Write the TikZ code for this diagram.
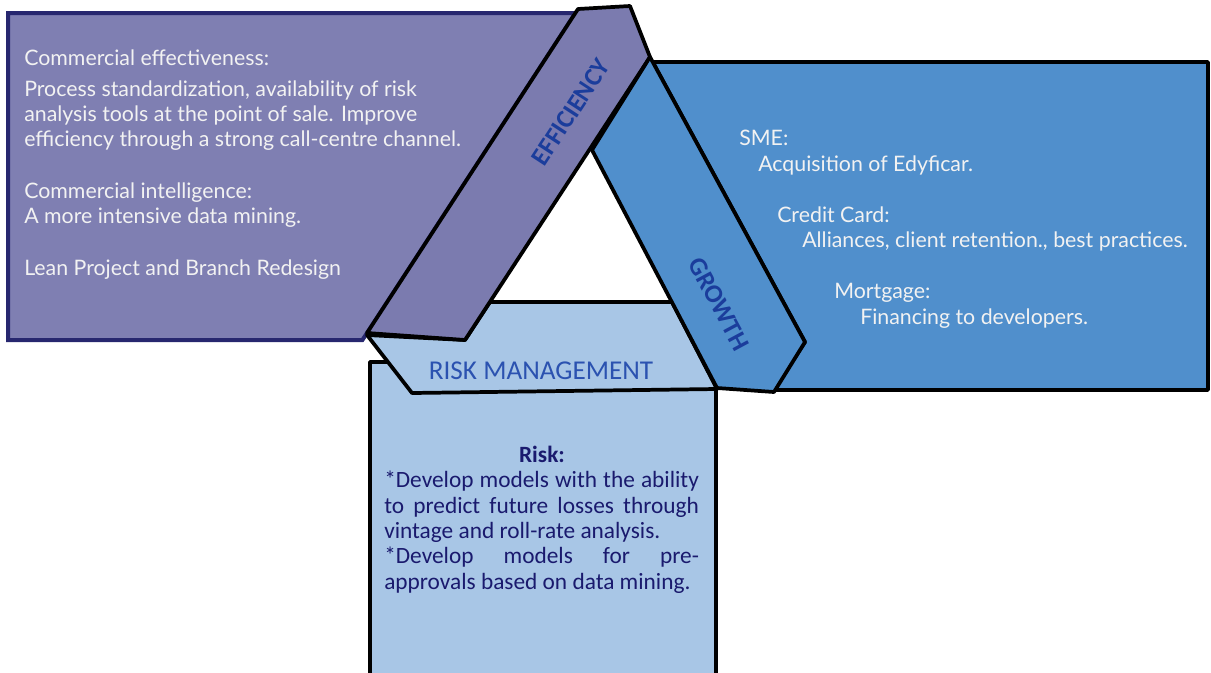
\documentclass[tikz,border=0pt]{standalone}
\usepackage{fontspec}
\setmainfont{Lato}
\newfontfamily\calib{Carlito}
\definecolor{purp}{HTML}{7F7FB2}
\definecolor{purpband}{HTML}{7B7BAF}
\definecolor{navyb}{HTML}{27276F}
\definecolor{midblue}{HTML}{508FCC}
\definecolor{lightblue}{HTML}{A8C6E6}
\definecolor{labblue}{HTML}{1B3D9C}
\definecolor{rmblue}{HTML}{2B52B0}
\definecolor{risknavy}{HTML}{1A1A6E}
\definecolor{txtwhite}{HTML}{F2F2F2}
\begin{document}
\begin{tikzpicture}[x=0.75pt,y=-0.75pt,
  outl/.style={draw=black,line width=2.8pt,line join=round},
  wtxt/.style={anchor=base west,inner sep=0pt,text=txtwhite,font=\fontsize{16}{19}\selectfont},
  bandlab/.style={inner sep=0pt,text=labblue,font=\calib\bfseries\fontsize{19.5}{21}\selectfont},
  rtxt/.style={anchor=base west,inner sep=0pt,text=risknavy,font=\calib\fontsize{17.5}{20}\selectfont}]
\useasboundingbox (0,0) rectangle (1211,672);
\clip (0,0) rectangle (1211,672);
% left purple box
\draw[draw=navyb,line width=3pt,fill=purp,line join=miter] (8,13) -- (575.4,13) -- (362.4,340) -- (8,340) -- cycle;
% right blue box
\draw[outl,fill=midblue] (652.7,62) -- (1208,62) -- (1208,390) -- (774,390) -- (805,342) -- cycle;
% risk box
\draw[outl,fill=lightblue] (370,362) rectangle (716,700);
% risk management band
\draw[outl,fill=lightblue] (367,335) -- (465,340) -- (490,302) -- (672,302) -- (717,389) -- (412,393) -- cycle;
% efficiency band
\draw[outl,fill=purpband] (367,333) -- (578,9) -- (630,6) -- (650,57) -- (465,340) -- cycle;
% growth band
\draw[outl,fill=midblue] (650,57) -- (805,342) -- (774,392) -- (717,388) -- (592,150) -- cycle;
% band labels
\node[bandlab,rotate=56.8] (eff) at (571,112) {EFFICIENCY};
\node[bandlab,rotate=-61.7] (gro) at (719,304) {GROWTH};
\node[inner sep=0pt,text=rmblue,font=\calib\fontsize{20.4}{22}\selectfont] (rm) at (541,371) {RISK MANAGEMENT};
% left texts
\node[wtxt] (l1) at (24,65) {Commercial effectiveness:};
\node[wtxt] (l2) at (24,96) {Process standardization, availability of risk};
\node[wtxt] (l3) at (24,121) {analysis tools at the point of sale. Improve};
\node[wtxt] (l4) at (24,146) {efficiency through a strong call-centre channel.};
\node[wtxt] (l5) at (24,198) {Commercial intelligence:};
\node[wtxt] (l6) at (24,223) {A more intensive data mining.};
\node[wtxt] (l7) at (24,275) {Lean Project and Branch Redesign};
% right texts
\node[wtxt] (s1) at (739,145) {SME:};
\node[wtxt] (s2) at (758,171) {Acquisition of Edyficar.};
\node[wtxt] (s3) at (777,222) {Credit Card:};
\node[wtxt] (s4) at (802,247) {Alliances, client retention., best practices.};
\node[wtxt] (s5) at (834,298) {Mortgage:};
\node[wtxt] (s6) at (860,324) {Financing to developers.};
% risk texts
\node[inner sep=0pt,anchor=base,text=risknavy,font=\calib\bfseries\fontsize{17.5}{20}\selectfont] (rk) at (542,462) {Risk:};
\node[rtxt] (r1) at (384,487) {\hbox to 236pt{*Develop models with the ability}};
\node[rtxt] (r2) at (384,513) {\hbox to 236pt{to predict future losses through}};
\node[rtxt] (r3) at (384,538) {vintage and roll-rate analysis.};
\node[rtxt] (r4) at (384,563) {\hbox to 236pt{*Develop models for pre-}};
\node[rtxt] (r5) at (384,589) {approvals based on data mining.};
\end{tikzpicture}
\end{document}
